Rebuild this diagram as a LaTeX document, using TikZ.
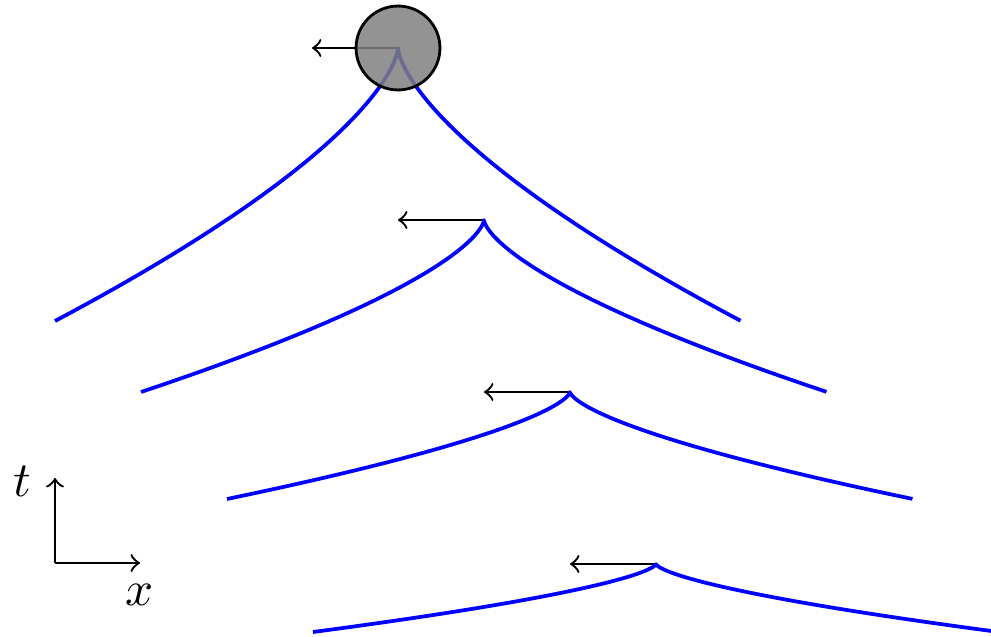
\documentclass[tikz,border=0pt]{standalone}
\begin{document}
\begin{tikzpicture}[x=0.0075cm,y=-0.0075cm,
  wave/.style={blue, line width=0.8pt, line join=round},
  motion/.style={->, line width=0.5pt},
  axis/.style={->, line width=0.5pt},
  ball/.style={circle, draw=black, line width=0.6pt, fill=gray, fill opacity=0.85, draw opacity=1, minimum size=0.63cm, inner sep=0pt}]
\useasboundingbox (0,0) rectangle (991,637);
\clip (0,0) rectangle (991,637);
% apexes
\coordinate (a1) at (398,48);
\coordinate (a2) at (484,220);
\coordinate (a3) at (570,392);
\coordinate (a4) at (656,564);
\coordinate (b1) at (312,48);
\coordinate (b2) at (398,220);
\coordinate (b3) at (484,392);
\coordinate (b4) at (570,564);
% arrows (drawn under the ball)
\draw[motion] (a1) -- (b1);
\draw[motion] (a2) -- (b2);
\draw[motion] (a3) -- (b3);
\draw[motion] (a4) -- (b4);
% cusped wave fronts
\draw[wave] plot[domain=-1:1, samples=121, smooth] ({398+343*\x*\x*\x},{48+273*\x*\x});
\draw[wave] plot[domain=-1:1, samples=121, smooth] ({484+343*\x*\x*\x},{220+172*\x*\x});
\draw[wave] plot[domain=-1:1, samples=121, smooth] ({570+343*\x*\x*\x},{392+107*\x*\x});
\draw[wave] plot[domain=-1:1, samples=121, smooth] ({656+343*\x*\x*\x},{564+68*\x*\x});
% ball
\node[ball] (ball) at (a1) {};
% axes
\coordinate (O) at (55,563);
\coordinate (T) at (55,478);
\coordinate (X) at (140,563);
\draw[axis] (O) -- (T);
\draw[axis] (O) -- (X);
\node[scale=1.05] (tl) at (22,481) {$t$};
\node[scale=1.05] (xl) at (140,595) {$x$};
\end{tikzpicture}
\end{document}
